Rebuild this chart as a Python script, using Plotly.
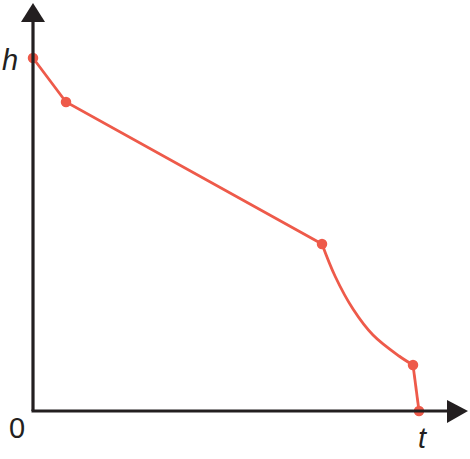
import plotly.graph_objects as go

# values (t, h in arbitrary units)
t_pts = [0.0, 3.3, 28.9, 38.0, 38.6]
h_pts = [35.3, 30.9, 16.7, 4.6, 0.0]

# points along the curved part between 3rd and 4th dots
t_curve = [28.9, 30.2, 32.0, 34.0, 36.6, 38.0]
h_curve = [16.7, 13.5, 10.2, 7.6, 5.5, 4.6]

RED = "#ee5a4a"
INK = "#231f20"

fig = go.Figure()
fig.add_trace(go.Scatter(x=t_pts[:3], y=h_pts[:3], mode="lines",
                         line=dict(color=RED, width=2.8), hoverinfo="skip"))
fig.add_trace(go.Scatter(x=t_curve, y=h_curve, mode="lines", line_shape="spline",
                         line=dict(color=RED, width=2.8, smoothing=1.0), hoverinfo="skip"))
fig.add_trace(go.Scatter(x=t_pts[3:], y=h_pts[3:], mode="lines",
                         line=dict(color=RED, width=2.8), hoverinfo="skip"))
fig.add_trace(go.Scatter(x=t_pts, y=h_pts, mode="markers",
                         marker=dict(color=RED, size=10.5), hoverinfo="skip"))

# axes with arrow heads
fig.add_shape(type="line", x0=0, y0=0, x1=0, y1=39.0, line=dict(color=INK, width=3.2))
fig.add_shape(type="line", x0=-0.15, y0=0, x1=41.5, y1=0, line=dict(color=INK, width=3.2))
fig.add_shape(type="path", path="M -1.2 38.9 L 1.2 38.9 L 0 40.8 Z",
              fillcolor=INK, line=dict(color=INK, width=0))
fig.add_shape(type="path", path="M 41.4 1.1 L 41.4 -1.2 L 43.5 0 Z",
              fillcolor=INK, line=dict(color=INK, width=0))

lbl = dict(family="Liberation Sans, Arial, sans-serif", size=29, color=INK)
fig.add_annotation(x=-2.3, y=35.1, text="<i>h</i>", showarrow=False, font=lbl)
fig.add_annotation(x=-1.6, y=-1.7, text="0", showarrow=False, font=lbl)
fig.add_annotation(x=39.0, y=-2.7, text="<i>t</i>", showarrow=False, font=lbl)

fig.update_layout(
    width=470, height=459, margin=dict(l=0, r=0, t=0, b=0),
    paper_bgcolor="white", plot_bgcolor="white", showlegend=False,
    xaxis=dict(range=[-3.3, 43.7], visible=False, fixedrange=True),
    yaxis=dict(range=[-4.8, 41.1], visible=False, fixedrange=True),
)

# page body margin would push the figure off the window
fig.write_html("out.html", config={"displayModeBar": False},
               post_script="document.body.style.margin='0';")
